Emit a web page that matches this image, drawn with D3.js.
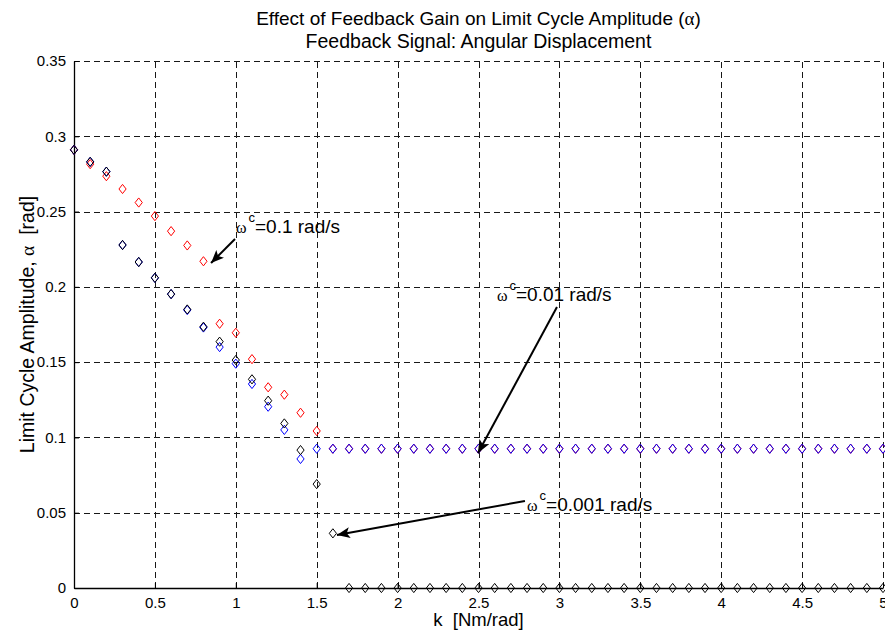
<!DOCTYPE html>
<html>
<head>
<meta charset="utf-8">
<script src="https://cdn.jsdelivr.net/npm/d3@7"></script>
<style>
  html, body { margin: 0; padding: 0; background: #fff; }
  svg { display: block; font-family: "Liberation Sans", Arial, sans-serif; }
</style>
</head>
<body>
<svg id="chart" width="885" height="633"></svg>
<script>
// ── Data ──────────────────────────────────────────────────────────────────────
const K = [0.0,0.1,0.2,0.3,0.4,0.5,0.6,0.7,0.8,0.9,
           1.0,1.1,1.2,1.3,1.4,1.5,1.6,1.7,1.8,1.9,
           2.0,2.1,2.2,2.3,2.4,2.5,2.6,2.7,2.8,2.9,
           3.0,3.1,3.2,3.3,3.4,3.5,3.6,3.7,3.8,3.9,
           4.0,4.1,4.2,4.3,4.4,4.5,4.6,4.7,4.8,4.9,5.0];

// wc = 0.1 rad/s (red)
const ALPHA_01 = [0.291,0.2815,0.2735,0.265,0.256,0.247,0.237,0.2275,0.217,0.1755,
                  0.1695,0.152,0.1333,0.1284,0.1164,0.1043,0.0925,0.0925,0.0925,0.0925,
                  0.0925,0.0925,0.0925,0.0925,0.0925,0.0925,0.0925,0.0925,0.0925,0.0925,
                  0.0925,0.0925,0.0925,0.0925,0.0925,0.0925,0.0925,0.0925,0.0925,0.0925,
                  0.0925,0.0925,0.0925,0.0925,0.0925,0.0925,0.0925,0.0925,0.0925,0.0925,0.0925];

// wc = 0.01 rad/s (blue)
const ALPHA_001 = [0.291,0.283,0.2765,0.2278,0.2165,0.206,0.1952,0.1846,0.173,0.160,
                   0.149,0.1355,0.1204,0.105,0.0857,0.0925,0.0925,0.0925,0.0925,0.0925,
                   0.0925,0.0925,0.0925,0.0925,0.0925,0.0925,0.0925,0.0925,0.0925,0.0925,
                   0.0925,0.0925,0.0925,0.0925,0.0925,0.0925,0.0925,0.0925,0.0925,0.0925,
                   0.0925,0.0925,0.0925,0.0925,0.0925,0.0925,0.0925,0.0925,0.0925,0.0925,0.0925];

// wc = 0.001 rad/s (black)
const ALPHA_0001 = [0.291,0.283,0.2765,0.2278,0.2165,0.206,0.1952,0.185,0.1735,0.1636,
                    0.1514,0.1386,0.1244,0.1093,0.0916,0.069,0.0363,0,0,0,
                    0,0,0,0,0,0,0,0,0,0,
                    0,0,0,0,0,0,0,0,0,0,
                    0,0,0,0,0,0,0,0,0,0,0];

const X_TICKS = [0, 0.5, 1, 1.5, 2, 2.5, 3, 3.5, 4, 4.5, 5];
const Y_TICKS = [0, 0.05, 0.1, 0.15, 0.2, 0.25, 0.3, 0.35];

// annotations, in data units (k, alpha)
const NOTE_TEXT  = ['=0.1 rad/s', '=0.01 rad/s', '=0.001 rad/s'];
const NOTE_AT    = [[1.001, 0.2358], [2.614, 0.1906], [2.800, 0.0511]];
const ARROW_FROM = [[0.995, 0.2318], [2.985, 0.1866], [2.787, 0.0578]];
const ARROW_TO   = [[0.847, 0.2158], [2.497, 0.0897], [1.625, 0.0352]];

const SERIES = [
  { vals: ALPHA_01,   color: '#ff0000' },
  { vals: ALPHA_001,  color: '#0000ff' },
  { vals: ALPHA_0001, color: '#000000' }
];

// ── Layout ────────────────────────────────────────────────────────────────────
const W = 885, H = 633;
const m = { left: 74, right: 2, top: 61, bottom: 45 };

const svg = d3.select('#chart');
svg.append('rect').attr('width', W).attr('height', H).attr('fill', '#fff');

const x = d3.scaleLinear().domain([0, 5]).range([m.left, W - m.right]);
const y = d3.scaleLinear().domain([0, 0.35]).range([H - m.bottom, m.top]);

const px = v => Math.round(v) + 0.5;

// grid
const grid = svg.append('g').attr('stroke', '#000').attr('stroke-width', 1)
  .attr('stroke-dasharray', '6,4').attr('shape-rendering', 'crispEdges').attr('opacity', 0.9);
X_TICKS.filter(t => t > 0).forEach(t => {
  grid.append('line').attr('x1', px(x(t))).attr('x2', px(x(t)))
    .attr('y1', y(0)).attr('y2', y(0.35));
});
Y_TICKS.filter(t => t > 0).forEach(t => {
  grid.append('line').attr('x1', x(0)).attr('x2', x(5))
    .attr('y1', px(y(t))).attr('y2', px(y(t)));
});

// axes (inward ticks, MATLAB style)
const xAxis = d3.axisBottom(x).tickValues(X_TICKS).tickSizeInner(-5).tickSizeOuter(0)
  .tickPadding(9).tickFormat(d => d3.format('~g')(d));
const yAxis = d3.axisLeft(y).tickValues(Y_TICKS).tickSizeInner(-5).tickSizeOuter(0)
  .tickPadding(8).tickFormat(d => d3.format('~g')(d));

const gx = svg.append('g').attr('transform', `translate(0,${px(y(0)) - 0.5})`).call(xAxis);
const gy = svg.append('g').attr('transform', `translate(${px(x(0)) - 0.5},0)`).call(yAxis);
[gx, gy].forEach(g => {
  g.select('.domain').attr('stroke', '#000').attr('stroke-width', 1.3);
  g.selectAll('.tick line').attr('stroke', '#000');
  g.selectAll('.tick text').attr('font-size', 15).attr('fill', '#000')
    .attr('font-family', '"Liberation Sans", Arial, sans-serif');
});

// markers
const diamond = {
  draw(ctx) {
    const hw = 3.6, hh = 4.6;
    ctx.moveTo(0, -hh); ctx.lineTo(hw, 0); ctx.lineTo(0, hh); ctx.lineTo(-hw, 0); ctx.closePath();
  }
};
const sym = d3.symbol().type(diamond);

SERIES.forEach(s => {
  svg.append('g').selectAll('path')
    .data(K.map((k, i) => [k, s.vals[i]]))
    .join('path')
    .attr('d', sym)
    .attr('transform', d => `translate(${x(d[0])},${y(d[1])})`)
    .attr('fill', 'none').attr('stroke', s.color).attr('stroke-width', 1);
});

// titles
svg.append('text').attr('x', x(2.5)).attr('y', 25).attr('text-anchor', 'middle')
  .attr('font-size', 19)
  .call(t => {
    t.append('tspan').text('Effect of Feedback Gain on Limit Cycle Amplitude (');
    t.append('tspan').attr('font-family', '"Liberation Serif", serif').text('α');
    t.append('tspan').text(')');
  });
svg.append('text').attr('x', x(2.5)).attr('y', 48).attr('text-anchor', 'middle')
  .attr('font-size', 19.5).text('Feedback Signal: Angular Displacement');

svg.append('text').attr('x', x(2.5)).attr('y', 626).attr('text-anchor', 'middle')
  .attr('font-size', 18.5).attr('xml:space', 'preserve').text('k  [Nm/rad]');

svg.append('text')
  .attr('transform', `translate(34,${(y(0) + y(0.35)) / 2}) rotate(-90)`)
  .attr('text-anchor', 'middle').attr('font-size', 19.5).attr('xml:space', 'preserve')
  .call(t => {
    t.append('tspan').text('Limit Cycle Amplitude, ');
    t.append('tspan').attr('font-family', '"Liberation Serif", serif').text('α');
    t.append('tspan').text('  [rad]');
  });

// arrows + notes
svg.append('defs').append('marker')
  .attr('id', 'head').attr('markerUnits', 'userSpaceOnUse')
  .attr('viewBox', '-13 -5.5 14 11').attr('refX', 0).attr('refY', 0)
  .attr('markerWidth', 14).attr('markerHeight', 11).attr('orient', 'auto')
  .append('path').attr('d', 'M0,0 L-13,-5.5 L-10,0 L-13,5.5 Z').attr('fill', '#000');

NOTE_TEXT.forEach((txt, i) => {
  svg.append('line')
    .attr('x1', x(ARROW_FROM[i][0])).attr('y1', y(ARROW_FROM[i][1]))
    .attr('x2', x(ARROW_TO[i][0])).attr('y2', y(ARROW_TO[i][1]))
    .attr('stroke', '#000').attr('stroke-width', 2).attr('marker-end', 'url(#head)');

  const t = svg.append('text').attr('x', x(NOTE_AT[i][0])).attr('y', y(NOTE_AT[i][1]))
    .attr('font-size', 19);
  t.append('tspan').attr('font-family', '"Liberation Serif", serif').attr('font-size', 16).text('ω');
  t.append('tspan').attr('font-size', 13).attr('dx', 2).attr('dy', -11).text('c');
  t.append('tspan').attr('dx', 0).attr('dy', 11).text(txt);
});
</script>
</body>
</html>
